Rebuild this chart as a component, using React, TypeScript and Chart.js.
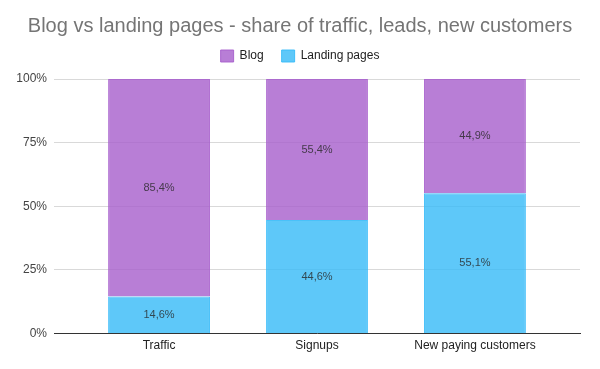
import React, { useEffect, useRef } from "react";
import { Chart, registerables } from "chart.js";

Chart.register(...registerables);

const title = "Blog vs landing pages - share of traffic, leads, new customers";
const categories = ["Traffic", "Signups", "New paying customers"];
const blogValues = [85.4, 55.4, 44.9];
const landingValues = [14.6, 44.6, 55.1];
const yTicks = [0, 25, 50, 75, 100];
const seriesNames = ["Blog", "Landing pages"];

const FONT = "'Liberation Sans', Arial, sans-serif";

const fmt = (v: number) => v.toFixed(1).replace(".", ",") + "%";

const labelPlugin = {
  id: "segLabels",
  afterDatasetsDraw(chart: any) {
    const ctx = chart.ctx;
    ctx.save();
    ctx.font = `11px ${FONT}`;
    ctx.fillStyle = "rgba(40,40,40,0.8)";
    ctx.textAlign = "center";
    ctx.textBaseline = "middle";
    chart.data.datasets.forEach((ds: any, di: number) => {
      const meta = chart.getDatasetMeta(di);
      meta.data.forEach((el: any, i: number) => {
        const p = el.getProps(["x", "y", "base"], true);
        const v = ds.data[i].y;
        ctx.fillText(fmt(v), p.x, (p.y + p.base) / 2);
      });
    });
    ctx.restore();
  },
};

const legendSpacer = {
  id: "legendSpacer",
  beforeUpdate(chart: any) {
    const lg = chart.legend;
    if (lg && !lg.__patched) {
      const orig = lg.fit.bind(lg);
      lg.fit = () => {
        orig();
        lg.height += 7;
      };
      lg.__patched = true;
    }
  },
};

export default function App() {
  const ref = useRef<HTMLCanvasElement>(null);
  useEffect(() => {
    if (!ref.current) return;
    const chart = new Chart(ref.current, {
      type: "bar",
      data: {
        datasets: [
          {
            label: seriesNames[1],
            data: landingValues.map((v, i) => ({ x: i + 1, y: v })),
            backgroundColor: "rgba(54,186,248,0.8)",
            borderColor: "rgba(54,186,248,0.9)",
            borderWidth: 1,
            barPercentage: 0.645,
            categoryPercentage: 1,
          },
          {
            label: seriesNames[0],
            data: blogValues.map((v, i) => ({ x: i + 1, y: v })),
            backgroundColor: "rgba(166,94,204,0.8)",
            borderColor: "rgba(166,94,204,0.9)",
            borderWidth: 1,
            barPercentage: 0.645,
            categoryPercentage: 1,
          },
        ],
      },
      options: {
        responsive: false,
        animation: false,
        devicePixelRatio: 1,
        layout: { padding: { left: 14, right: 14, top: 0, bottom: 11 } },
        plugins: {
          title: {
            display: true,
            text: title,
            color: "#757575",
            font: { family: FONT, size: 20, weight: "normal" },
            padding: { top: 14, bottom: -6 },
          },
          legend: {
            reverse: true,
            labels: {
              boxWidth: 13,
              boxHeight: 12,
              padding: 18,
              color: "#222",
              font: { family: FONT, size: 12 },
            },
          },
          tooltip: { enabled: false },
        },
        scales: {
          x: {
            type: "linear",
            stacked: true,
            offset: false,
            min: 0.335,
            max: 3.665,
            afterBuildTicks: (scale: any) => {
              scale.ticks = categories.map((_, i) => ({ value: i + 1 }));
            },
            ticks: {
              callback: (v: any) => categories[Math.round(v) - 1] ?? "",
              color: "#222",
              font: { family: FONT, size: 12 },
              padding: 5,
              maxRotation: 0,
              autoSkip: false,
            },
            grid: { display: false, drawTicks: false },
            border: { display: true, color: "#333", width: 1 },
          },
          y: {
            stacked: true,
            min: 0,
            max: 100,
            afterBuildTicks: (scale: any) => {
              scale.ticks = yTicks.map((v) => ({ value: v }));
            },
            afterFit: (scale: any) => {
              scale.width = 40;
            },
            ticks: {
              callback: (v: any) => v + "%",
              color: "#444",
              font: { family: FONT, size: 12 },
              padding: 7,
            },
            grid: { color: "#d9d9d9", drawTicks: false },
            border: { display: false },
          },
          yR: {
            position: "right",
            display: true,
            min: 0,
            max: 100,
            ticks: { display: false },
            grid: { display: false, drawTicks: false },
            border: { display: false },
            afterFit: (scale: any) => {
              scale.width = 6;
            },
          },
        },
      },
      plugins: [labelPlugin, legendSpacer],
    } as any);
    return () => chart.destroy();
  }, []);
  return (
    <div style={{ position: "absolute", left: 0, top: 0, width: 600, height: 369, background: "#fff" }}>
      <canvas ref={ref} width={600} height={369} style={{ width: 600, height: 369 }} />
    </div>
  );
}
